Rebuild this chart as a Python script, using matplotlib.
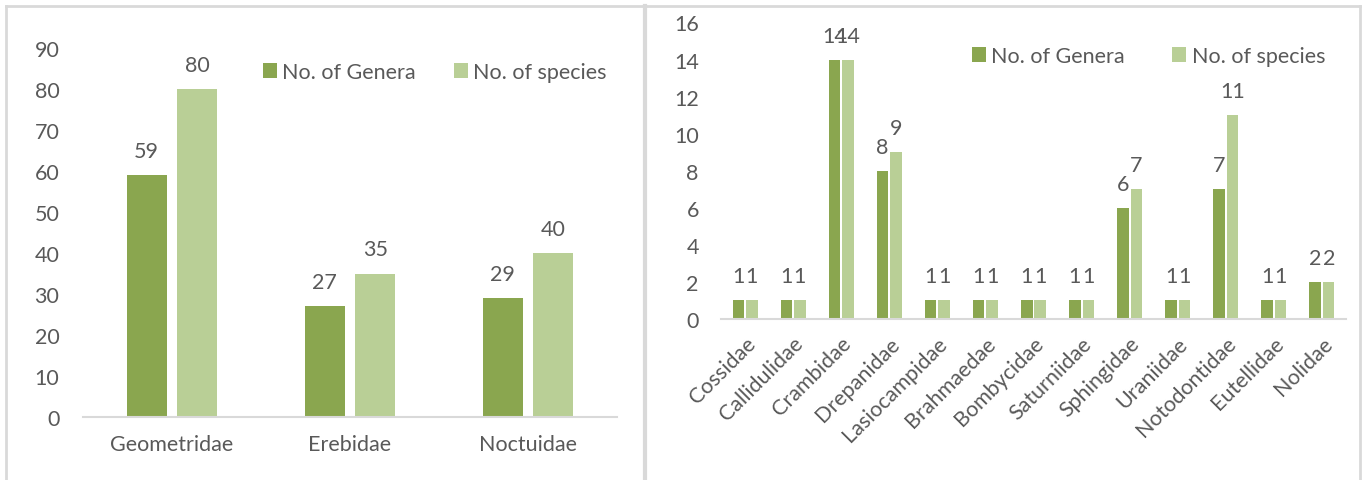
import matplotlib
matplotlib.use("Agg")
import matplotlib.pyplot as plt
from matplotlib.patches import Patch
from matplotlib.lines import Line2D

# Data
major_families = ["Geometridae", "Erebidae", "Noctuidae"]
major_genera = [59, 27, 29]
major_species = [80, 35, 40]

minor_families = ["Cossidae", "Callidulidae", "Crambidae", "Drepanidae", "Lasiocampidae",
                  "Brahmaedae", "Bombycidae", "Saturniidae", "Sphingidae", "Uraniidae",
                  "Notodontidae", "Eutellidae", "Nolidae"]
minor_genera = [1, 1, 14, 8, 1, 1, 1, 1, 6, 1, 7, 1, 2]
minor_species = [1, 1, 14, 9, 1, 1, 1, 1, 7, 1, 11, 1, 2]

series_names = ["No. of Genera", "No. of species"]
left_yticks = list(range(0, 91, 10))
right_yticks = list(range(0, 17, 2))

C_GEN = "#8AA64F"
C_SPE = "#B9CF96"
TXT = "#595959"
GRID = "#D9D9D9"
FS = 15.5

plt.rcParams["font.family"] = ["Lato", "DejaVu Sans"]

W, H = 1366, 481
fig = plt.figure(figsize=(W / 100, H / 100), dpi=100)


def fx(px):
    return px / W


def fy(py):
    return 1 - py / H


def panel_axes(x0, x1, y_top, y_bot):
    return fig.add_axes([fx(x0), fy(y_bot), fx(x1 - x0), (y_bot - y_top) / H])


def style(ax):
    for s in ["top", "right", "left"]:
        ax.spines[s].set_visible(False)
    ax.spines["bottom"].set_color(GRID)
    ax.spines["bottom"].set_linewidth(1.5)
    ax.tick_params(axis="both", length=0, colors=TXT, labelsize=FS)
    ax.set_facecolor("none")


def draw(ax, cats, gen, spe, off, width, ymax, yticks, label_off):
    xs = list(range(len(cats)))
    b1 = ax.bar([x - off for x in xs], gen, width, color=C_GEN)
    b2 = ax.bar([x + off for x in xs], spe, width, color=C_SPE)
    for bars, vals in ((b1, gen), (b2, spe)):
        for rect, v in zip(bars, vals):
            ax.annotate(f"{v}", (rect.get_x() + rect.get_width() / 2, v),
                        xytext=(0, label_off), textcoords="offset points",
                        ha="center", va="baseline", fontsize=FS, color=TXT)
    ax.set_xlim(-0.5, len(cats) - 0.5)
    ax.set_ylim(0, ymax)
    ax.set_yticks(yticks)
    ax.set_xticks(xs)
    style(ax)


# Left chart: the three large families
axL = panel_axes(83, 617, 49, 418)
draw(axL, major_families, major_genera, major_species, 0.143, 0.225, 90, left_yticks, 13)
axL.set_xticklabels(major_families)
axL.tick_params(axis="x", pad=12)
axL.tick_params(axis="y", pad=17)

# Right chart: the smaller families
axR = panel_axes(721, 1346, 23.5, 320)
draw(axR, minor_families, minor_genera, minor_species, 0.14, 0.24, 16, right_yticks, 13)
axR.set_xticklabels(minor_families, rotation=45, ha="right", va="top", rotation_mode="anchor")
axR.tick_params(axis="x", pad=10)
axR.tick_params(axis="y", pad=16)

handles = [Patch(facecolor=C_GEN, edgecolor="none"), Patch(facecolor=C_SPE, edgecolor="none")]
for (lx, ly), colsp in (((263, 73), 1.75), ((972, 57), 2.2)):
    fig.legend(handles, series_names, loc="center left",
               bbox_to_anchor=(fx(lx), fy(ly)), bbox_transform=fig.transFigure,
               ncol=2, frameon=False, fontsize=FS, labelcolor=TXT,
               handlelength=0.65, handleheight=0.65, handletextpad=0.25,
               columnspacing=colsp, borderpad=0, borderaxespad=0)

# Panel frames
frame_kw = dict(color=GRID, linewidth=2, transform=fig.transFigure)
fig.add_artist(Line2D([fx(6), fx(6)], [fy(7), 0], **frame_kw))
fig.add_artist(Line2D([fx(6), fx(1360)], [fy(7), fy(7)], **frame_kw))
fig.add_artist(Line2D([fx(645), fx(645)], [fy(7), 0], color=GRID, linewidth=3,
                      transform=fig.transFigure))
fig.add_artist(Line2D([fx(1360), fx(1360)], [fy(7), 0], **frame_kw))

fig.savefig("out.png", dpi=100, facecolor="white")
